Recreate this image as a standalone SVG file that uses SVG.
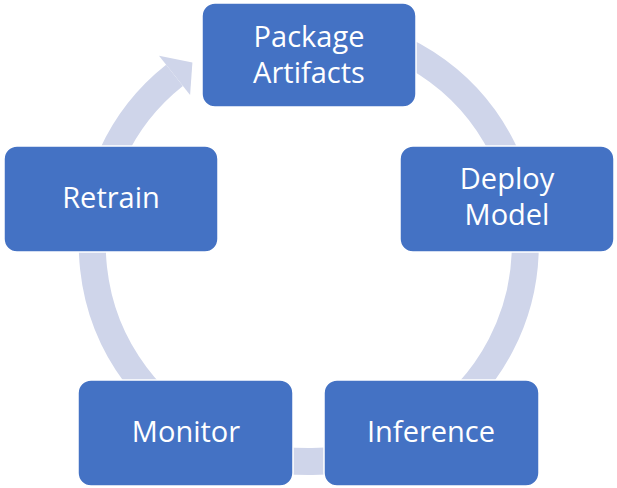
<svg xmlns="http://www.w3.org/2000/svg" width="617" height="488" viewBox="0 0 617 488">
<style>
.node rect{fill:#4472C4;stroke:#ffffff;stroke-width:1.5}
.node text{fill:#ffffff;font-family:"Open Sans","Liberation Sans",sans-serif;font-size:29px;text-anchor:middle}
.band{fill:none;stroke:#CFD5EA;stroke-width:27}
.head{fill:#CFD5EA}
</style>
<rect width="617" height="488" fill="#ffffff"/>
<g id="connectors">
<path class="band" d="M 217.5 48.8 A 216.5 216.5 0 1 1 174.5 75.3"/>
<polygon class="head" points="190.1,94.9 159.0,55.7 192.4,62.6"/>
</g>
<g id="package-artifacts" class="node">
<rect x="202" y="3" width="214" height="104" rx="13"/>
<text x="309" y="47">Package</text>
<text x="309" y="83">Artifacts</text>
</g>
<g id="deploy-model" class="node">
<rect x="400" y="146" width="214" height="106" rx="13"/>
<text x="507" y="189">Deploy</text>
<text x="507" y="225">Model</text>
</g>
<g id="inference" class="node">
<rect x="324" y="380" width="215" height="106" rx="13"/>
<text x="431" y="442">Inference</text>
</g>
<g id="monitor" class="node">
<rect x="78" y="380" width="215" height="106" rx="13"/>
<text x="186" y="442">Monitor</text>
</g>
<g id="retrain" class="node">
<rect x="4" y="146" width="214" height="106" rx="13"/>
<text x="111" y="208">Retrain</text>
</g>
</svg>
